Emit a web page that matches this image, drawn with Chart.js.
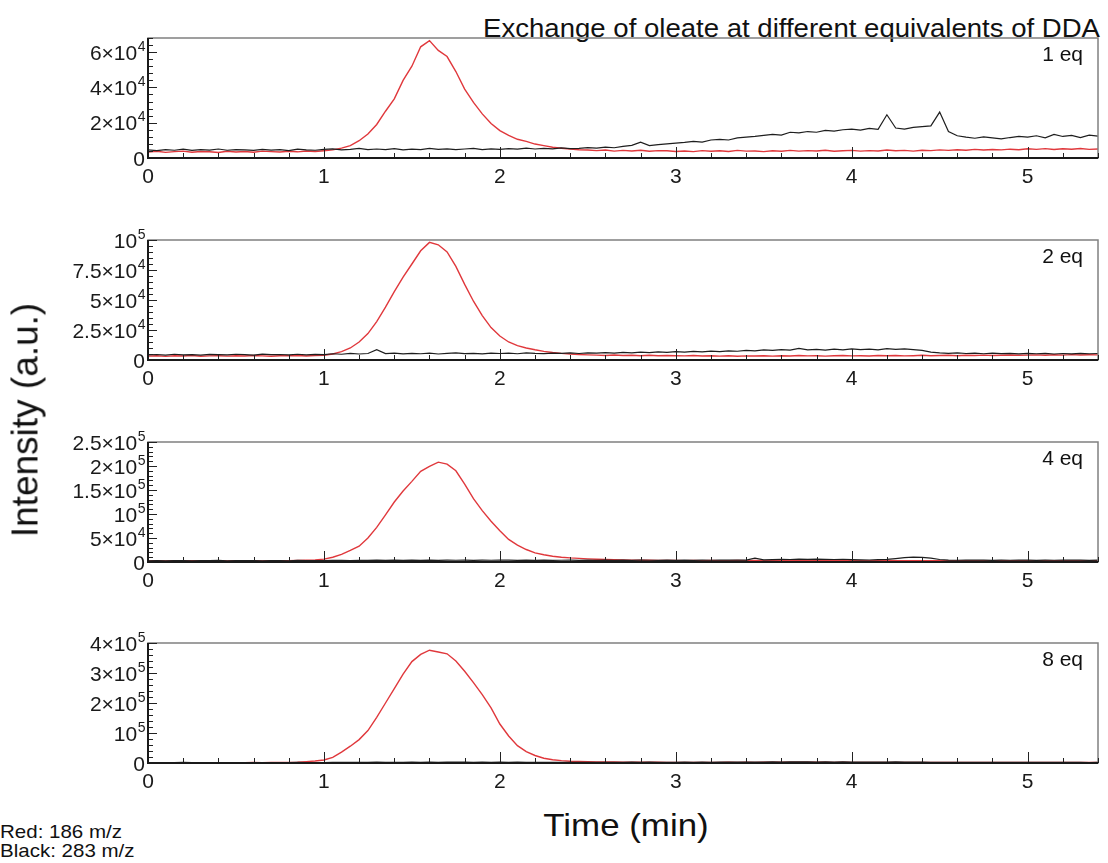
<!DOCTYPE html>
<html>
<head>
<meta charset="utf-8">
<script src="https://cdn.jsdelivr.net/npm/chart.js@4.4.0/dist/chart.umd.min.js"></script>
<style>
  body { margin: 0; background: #fff; }
  #page { position: relative; width: 1108px; height: 863px; overflow: hidden; font-family: "Liberation Sans", Arial, sans-serif; color: #111; }
  canvas { position: absolute; left: 0; }
  .txt { position: absolute; white-space: nowrap; }
</style>
</head>
<body>
<div id="page">
  <div class="txt" style="right:8px; top:15px; font-size:26px; line-height:26px; transform:scaleX(1.06); transform-origin:right center;">Exchange of oleate at different equivalents of DDA</div>
  <canvas id="p1" width="1108" height="168" style="top:24px"></canvas>
  <canvas id="p2" width="1108" height="168" style="top:226px"></canvas>
  <canvas id="p3" width="1108" height="168" style="top:428px"></canvas>
  <canvas id="p4" width="1108" height="168" style="top:629px"></canvas>
  <div class="txt" style="left:25px; top:420px; font-size:37px; line-height:37px; transform:translate(-50%,-50%) rotate(-90deg);">Intensity (a.u.)</div>
  <div class="txt" style="left:626px; top:809px; font-size:32px; line-height:32px; transform:translateX(-50%) scaleX(1.09);">Time (min)</div>
  <div class="txt" style="left:0; top:822px; font-size:19px; line-height:20px; transform:scaleX(1.08); transform-origin:left center;">Red: 186 m/z</div>
  <div class="txt" style="left:0; top:841px; font-size:19px; line-height:20px; transform:scaleX(1.08); transform-origin:left center;">Black: 283 m/z</div>
</div>
<script>
// retention time (min)
const time = [
  0,0.05,0.1,0.15,0.2,0.25,0.3,0.35,0.4,0.45,0.5,
  0.55,0.6,0.65,0.7,0.75,0.8,0.85,0.9,0.95,1,
  1.05,1.1,1.15,1.2,1.25,1.3,1.35,1.4,1.45,1.5,
  1.55,1.6,1.65,1.7,1.75,1.8,1.85,1.9,1.95,2,
  2.05,2.1,2.15,2.2,2.25,2.3,2.35,2.4,2.45,2.5,
  2.55,2.6,2.65,2.7,2.75,2.8,2.85,2.9,2.95,3,
  3.05,3.1,3.15,3.2,3.25,3.3,3.35,3.4,3.45,3.5,
  3.55,3.6,3.65,3.7,3.75,3.8,3.85,3.9,3.95,4,
  4.05,4.1,4.15,4.2,4.25,4.3,4.35,4.4,4.45,4.5,
  4.55,4.6,4.65,4.7,4.75,4.8,4.85,4.9,4.95,5,
  5.05,5.1,5.15,5.2,5.25,5.3,5.35,5.4
];

// intensities in thousands of counts
const black1eq = [
  4.6,4.2,4.8,4.4,5.0,4.3,4.7,4.5,5.1,4.4,4.8,
  4.6,4.3,4.9,4.5,4.7,4.2,5.0,4.6,4.4,4.9,
  5.2,4.6,4.9,5.4,4.7,5.1,4.8,5.3,4.6,5.0,
  4.8,5.4,4.9,5.2,4.7,5.1,5.5,4.8,5.2,4.9,
  5.3,5.0,5.6,5.1,5.4,5.2,5.7,5.3,5.5,5.9,
  5.6,6.2,5.8,6.6,7.2,9.0,7.0,7.6,8.0,8.4,
  8.8,9.4,9.0,10.2,10.6,10.2,11.4,11.8,12.2,12.8,
  13.4,13.0,14.6,14.2,15.0,14.6,15.6,15.2,16.0,16.4,
  15.8,16.8,16.2,24.5,17.0,16.4,17.4,17.8,18.2,26.0,
  15.0,12.6,11.8,11.2,12.0,11.4,10.8,11.6,12.2,11.8,
  12.6,11.4,13.4,12.2,12.8,11.6,13.0,12.4
];
const red1eq = [
  3.4,3.8,3.2,3.6,3.9,3.3,3.7,3.5,3.1,3.8,3.4,
  3.7,3.3,3.9,3.6,3.4,3.8,3.5,4.0,3.7,4.1,
  4.6,5.6,7.0,9.8,13.6,19.0,26.5,33.5,44.0,52.0,
  63.0,66.5,61.0,57.5,49.0,39.0,31.5,25.0,19.5,15.5,
  12.8,10.6,9.4,7.9,7.0,6.1,5.5,5.1,4.7,4.5,
  4.2,4.5,3.9,4.3,4.0,4.4,3.8,4.2,4.1,3.7,
  4.0,3.6,4.2,3.8,4.1,3.7,4.3,3.9,4.0,3.6,
  4.1,3.8,4.3,3.9,4.2,4.0,4.4,3.8,4.1,4.3,
  3.9,4.2,4.0,4.5,4.1,4.3,3.9,4.4,4.2,4.6,
  4.3,4.7,4.4,4.9,4.5,4.8,4.6,5.0,4.7,5.2,
  4.9,5.3,4.8,5.2,5.0,5.4,4.9,5.1
];
const black2eq = [
  4.2,4.6,4.0,4.8,4.3,4.5,4.1,4.7,4.4,4.2,4.8,
  4.5,4.1,4.9,4.4,4.6,4.2,4.8,4.3,4.7,4.5,
  5.2,4.8,5.6,5.0,5.4,8.6,5.3,5.8,5.1,5.6,
  5.2,5.7,5.0,5.5,5.9,5.3,5.6,5.1,5.8,5.4,
  5.7,5.2,5.9,5.5,5.3,5.8,5.6,6.0,5.4,5.9,
  5.7,6.2,5.8,6.4,6.0,6.6,6.2,6.8,6.4,7.0,
  6.6,7.2,6.8,7.4,7.0,7.6,7.3,8.0,7.6,8.4,
  8.0,8.6,8.2,9.6,8.4,8.8,8.3,9.0,8.5,9.2,
  8.6,9.0,8.4,9.4,8.8,9.2,8.6,8.0,6.6,6.0,
  5.6,6.0,5.4,5.8,5.2,5.7,5.3,5.6,5.1,5.5,
  5.2,5.6,5.0,5.4,5.1,5.5,5.2,5.4
];
const red2eq = [
  3.2,3.6,3.0,3.5,3.3,3.7,3.1,3.4,3.6,3.2,3.5,
  3.3,3.7,3.4,3.1,3.6,3.5,3.8,3.3,3.7,4.0,
  5.0,7.0,10.0,15.0,22.0,32.0,44.0,57.0,69.0,80.0,
  91.0,98.0,96.0,90.0,78.0,63.0,49.0,37.0,27.0,20.0,
  15.0,12.0,10.0,8.5,7.2,6.2,5.5,5.0,4.6,4.3,
  4.1,3.8,4.2,3.7,4.0,3.6,3.9,3.5,3.8,3.6,
  3.4,3.7,3.3,3.6,3.2,3.5,3.1,3.4,3.3,3.6,
  3.2,3.5,3.3,3.7,3.4,3.6,3.2,3.5,3.8,3.4,
  3.6,3.3,3.7,3.5,3.8,3.4,3.6,3.9,3.5,3.7,
  3.9,3.6,4.0,3.7,4.1,3.8,4.0,4.2,3.9,4.1,
  4.3,4.0,4.4,4.1,4.5,4.2,4.4,4.3
];
const black4eq = [
  2.6,3.0,2.4,2.8,3.1,2.5,2.9,2.7,3.2,2.6,2.9,
  2.7,3.1,2.5,3.0,2.8,2.6,3.2,2.7,3.0,2.9,
  3.2,3.5,3.0,3.6,3.3,3.8,3.4,3.7,3.2,3.9,
  3.5,3.8,3.3,3.9,3.6,4.1,3.4,3.8,3.6,4.0,
  3.7,3.4,3.9,3.5,3.8,3.3,3.6,3.9,3.4,3.7,
  3.5,3.8,3.4,3.7,3.3,3.9,3.6,3.5,3.8,3.4,
  3.7,3.5,3.9,3.6,4.0,3.7,4.2,3.8,8.0,4.4,
  5.0,5.6,5.2,5.8,5.4,6.0,5.6,5.2,5.7,5.0,
  4.6,4.2,4.8,5.4,7.2,9.0,10.2,9.6,8.0,5.2,
  4.0,3.6,4.1,3.7,3.9,3.5,3.8,3.6,4.0,3.7,
  3.5,3.9,3.6,4.1,3.7,3.8,3.5,3.9
];
const red4eq = [
  2.2,2.6,2.0,2.5,2.3,2.7,2.1,2.4,2.6,2.2,2.5,
  2.3,2.7,2.4,2.6,2.9,2.7,3.2,3.6,4.4,6.0,
  10.0,16.0,24.0,33.0,50.0,72.0,98.0,125.0,148.0,168.0,
  189.0,199.0,208.0,204.0,190.0,162.0,132.0,107.0,85.0,65.0,
  47.0,35.0,26.0,19.0,15.0,12.0,10.0,8.5,7.5,6.5,
  5.8,5.2,4.7,4.3,4.0,3.7,3.5,3.3,3.1,3.0,
  2.9,3.1,2.8,3.0,2.7,2.9,3.1,2.8,3.0,2.7,
  2.9,2.6,3.0,2.8,2.7,3.0,2.6,2.9,2.8,2.7,
  2.9,2.6,2.8,3.0,2.7,2.9,2.6,2.8,2.7,2.9,
  2.6,2.8,2.5,2.9,2.7,2.6,2.8,2.5,2.7,2.9,
  2.6,2.8,2.5,2.7,2.9,2.6,2.8,2.7
];
const black8eq = [
  1.2,1.6,1.0,1.4,1.8,1.1,1.5,1.3,1.7,1.2,1.5,
  1.3,1.7,1.1,1.6,1.4,1.2,1.8,1.3,1.6,1.5,
  1.8,2.2,1.9,2.4,2.0,2.6,2.1,2.5,2.2,2.8,
  2.4,2.9,2.5,3.0,2.6,2.8,2.3,2.7,2.4,2.6,
  2.3,2.6,2.1,2.5,2.2,2.4,2.0,2.3,2.1,2.4,
  2.2,2.5,2.1,2.4,2.6,2.3,2.7,2.2,2.5,2.3,
  2.6,2.4,2.8,2.5,3.0,2.7,3.2,2.9,3.4,3.1,
  3.6,3.3,3.8,3.5,3.9,3.4,3.7,3.2,3.5,3.0,
  2.8,3.1,2.7,3.2,3.6,3.3,2.9,2.6,2.4,2.2,
  2.0,2.3,1.9,2.2,1.8,2.1,1.9,2.2,1.8,2.0,
  1.9,2.2,1.8,2.1,1.9,2.0,1.7,2.1
];
const red8eq = [
  1.0,1.3,0.9,1.2,1.1,1.4,1.0,1.2,1.3,1.1,1.4,
  1.2,1.5,1.3,1.6,1.8,2.2,3.0,4.5,6.5,10.0,
  19.0,36.0,56.0,78.0,108.0,152.0,200.0,248.0,296.0,338.0,
  362.0,376.0,370.0,364.0,340.0,306.0,268.0,228.0,184.0,130.0,
  90.0,58.0,38.0,25.0,16.0,11.0,8.0,6.0,5.0,4.2,
  3.8,3.4,3.1,2.9,2.7,2.5,2.4,2.3,2.2,2.1,
  2.0,2.2,1.9,2.1,2.0,2.3,2.1,2.4,2.2,2.5,
  2.3,2.6,2.4,2.7,2.5,2.3,2.6,2.2,2.4,2.1,
  2.0,2.2,1.9,2.1,1.8,2.0,1.7,1.9,1.8,2.0,
  1.7,1.9,1.6,1.8,1.7,1.9,1.6,1.8,1.5,1.7,
  1.6,1.8,1.5,1.7,1.6,1.8,1.5,1.7
];

// axes
const xTicks = [0, 1, 2, 3, 4, 5];
const xMax = 5.4;
const panelLabels = ["1 eq", "2 eq", "4 eq", "8 eq"];
const yMax = [68, 100, 250, 400];
const yTicks1 = [0, 20, 40, 60];
const yTicks2 = [0, 25, 50, 75, 100];
const yTicks3 = [0, 50, 100, 150, 200, 250];
const yTicks4 = [0, 100, 200, 300, 400];
// "^" marks the exponent, drawn as a superscript
const yText1 = ["0", "2×10^4", "4×10^4", "6×10^4"];
const yText2 = ["0", "2.5×10^4", "5×10^4", "7.5×10^4", "10^5"];
const yText3 = ["0", "5×10^4", "10^5", "1.5×10^5", "2×10^5", "2.5×10^5"];
const yText4 = ["0", "10^5", "2×10^5", "3×10^5", "4×10^5"];

const FONT = '"Liberation Sans", Arial, sans-serif';
Chart.defaults.font.family = FONT;
Chart.defaults.color = "#1a1a1a";

// box, inward ticks, y labels with superscripts and the panel label
const framePlugin = {
  id: "frame",
  afterDatasetsDraw(chart, args, opts) {
    const { ctx, chartArea: a } = chart;
    const x = chart.scales.x, y = chart.scales.y;
    ctx.save();
    ctx.strokeStyle = "#808080";
    ctx.lineWidth = 1.5;
    ctx.strokeRect(a.left, a.top, a.right - a.left, a.bottom - a.top);

    ctx.strokeStyle = "#222";
    ctx.lineWidth = 1;
    ctx.beginPath();
    for (let k = 0; k * 0.2 <= x.max + 1e-9; k++) {
      const px = Math.round(x.getPixelForValue(k * 0.2)) + 0.5;
      const len = k % 5 === 0 ? 11 : 5;
      ctx.moveTo(px, a.bottom);
      ctx.lineTo(px, a.bottom - len);
    }
    const step = (opts.ticks[1] - opts.ticks[0]) / 5;
    for (let k = 0; k * step <= y.max + 1e-9; k++) {
      const py = Math.round(y.getPixelForValue(k * step)) + 0.5;
      const len = k % 5 === 0 ? 9 : 5;
      ctx.moveTo(a.left, py);
      ctx.lineTo(a.left + len, py);
    }
    ctx.stroke();

    ctx.strokeStyle = "#1a1a1a";
    ctx.lineWidth = 2;
    ctx.beginPath();
    ctx.moveTo(a.left, a.top);
    ctx.lineTo(a.left, a.bottom);
    ctx.lineTo(a.right, a.bottom);
    ctx.stroke();

    ctx.fillStyle = "#1a1a1a";
    ctx.textAlign = "left";
    ctx.textBaseline = "alphabetic";
    opts.ticks.forEach((v, i) => {
      const [base, exp] = opts.text[i].split("^");
      const py = y.getPixelForValue(v);
      ctx.font = "14px " + FONT;
      const ew = exp ? ctx.measureText(exp).width : 0;
      ctx.font = "21px " + FONT;
      const bw = ctx.measureText(base).width;
      const right = a.left - 3;
      ctx.fillText(base, right - ew - bw, py + 7.5);
      if (exp) {
        ctx.font = "14px " + FONT;
        ctx.fillText(exp, right - ew + 0.5, py - 1.5);
      }
    });

    ctx.font = "21px " + FONT;
    ctx.fillStyle = "#111";
    ctx.textAlign = "right";
    ctx.fillText(opts.label, a.right - 15, a.top + 23);
    ctx.restore();
  }
};

function makePanel(id, label, black, red, max, ticks, text) {
  const pts = (vals) => time.map((t, i) => ({ x: t, y: vals[i] }));
  return new Chart(document.getElementById(id), {
    type: "line",
    data: {
      datasets: [
        { label: "283 m/z", data: pts(black), borderColor: "#1e1e1e", borderWidth: 1.2, pointRadius: 0 },
        { label: "186 m/z", data: pts(red), borderColor: "#e0383c", borderWidth: 1.4, pointRadius: 0 }
      ]
    },
    options: {
      responsive: false,
      animation: false,
      devicePixelRatio: 1,
      layout: { padding: { top: 14, right: 10, left: 0, bottom: 0 } },
      plugins: {
        legend: { display: false },
        tooltip: { enabled: false },
        frame: { label: label, ticks: ticks, text: text }
      },
      scales: {
        x: {
          type: "linear",
          min: 0,
          max: xMax,
          grid: { display: false, drawTicks: false },
          border: { display: false },
          afterBuildTicks: (s) => { s.ticks = xTicks.map((v) => ({ value: v })); },
          afterFit: (s) => { s.height = 34; },
          ticks: { font: { size: 21 }, padding: 7, autoSkip: false, maxRotation: 0, callback: (v) => String(v) }
        },
        y: {
          min: 0,
          max: max,
          grid: { display: false, drawTicks: false },
          border: { display: false },
          afterBuildTicks: (s) => { s.ticks = ticks.map((v) => ({ value: v })); },
          afterFit: (s) => { s.width = 148; },
          ticks: { display: false }
        }
      }
    },
    plugins: [framePlugin]
  });
}

makePanel("p1", panelLabels[0], black1eq, red1eq, yMax[0], yTicks1, yText1);
makePanel("p2", panelLabels[1], black2eq, red2eq, yMax[1], yTicks2, yText2);
makePanel("p3", panelLabels[2], black4eq, red4eq, yMax[2], yTicks3, yText3);
makePanel("p4", panelLabels[3], black8eq, red8eq, yMax[3], yTicks4, yText4);
</script>
</body>
</html>
